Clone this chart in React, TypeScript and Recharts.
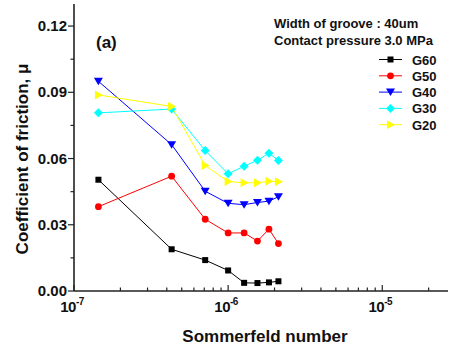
import { LineChart, Line, XAxis, YAxis } from "recharts";

// Sommerfeld number (x) shared by all series
const sommerfeld = [1.44e-7, 4.3e-7, 7.1e-7, 1.0e-6, 1.27e-6, 1.55e-6, 1.84e-6, 2.12e-6];

// coefficient of friction per groove
const g60 = [0.0504, 0.0189, 0.014, 0.0093, 0.0037, 0.0036, 0.0039, 0.0044];
const g50 = [0.0382, 0.052, 0.0325, 0.0263, 0.0263, 0.0226, 0.028, 0.0215];
const g40 = [0.095, 0.0663, 0.0452, 0.0397, 0.0391, 0.0401, 0.0407, 0.0427];
const g30 = [0.0807, 0.0824, 0.0636, 0.0531, 0.0565, 0.0592, 0.0624, 0.0591];
const g20 = [0.0888, 0.0836, 0.0568, 0.0496, 0.049, 0.049, 0.0497, 0.0495];

const xMajorTicks = [1e-7, 1e-6, 1e-5];
const xMinorTicks = [
  2e-7, 3e-7, 4e-7, 5e-7, 6e-7, 7e-7, 8e-7, 9e-7,
  2e-6, 3e-6, 4e-6, 5e-6, 6e-6, 7e-6, 8e-6, 9e-6,
  2e-5,
];
const yMajorTicks = [0, 0.03, 0.06, 0.09, 0.12];
const yMinorTicks = [0.015, 0.045, 0.075, 0.105];

const series = [
  { key: "G60", values: g60, color: "#000000", marker: "square" },
  { key: "G50", values: g50, color: "#ff0000", marker: "circle" },
  { key: "G40", values: g40, color: "#0000ff", marker: "triangleDown" },
  { key: "G30", values: g30, color: "#00ffff", marker: "diamond" },
  { key: "G20", values: g20, color: "#ffff00", marker: "triangleRight" },
];

const data = sommerfeld.map((s, i) => {
  const row: Record<string, number> = { s };
  series.forEach((ser) => {
    row[ser.key] = ser.values[i];
  });
  return row;
});

const FONT = "'Liberation Sans', Arial, sans-serif";
const AXIS = "#222";

const isMajor = (v: number, majors: number[]) =>
  majors.some((m) => Math.abs(v - m) / Math.max(m, 1e-12) < 1e-6 || v === m);

const Marker = ({ kind, cx, cy, color }: { kind: string; cx: number; cy: number; color: string }) => {
  switch (kind) {
    case "square":
      return <rect x={cx - 3} y={cy - 3} width={6} height={6} fill={color} />;
    case "circle":
      return <circle cx={cx} cy={cy} r={3.4} fill={color} />;
    case "triangleDown":
      return (
        <polygon
          points={`${cx - 4.5},${cy - 3.5} ${cx + 4.5},${cy - 3.5} ${cx},${cy + 4}`}
          fill={color}
        />
      );
    case "diamond":
      return (
        <polygon
          points={`${cx},${cy - 4.5} ${cx + 4.5},${cy} ${cx},${cy + 4.5} ${cx - 4.5},${cy}`}
          fill={color}
        />
      );
    default:
      return (
        <polygon
          points={`${cx - 3.5},${cy - 4.5} ${cx - 3.5},${cy + 4.5} ${cx + 4.5},${cy}`}
          fill={color}
        />
      );
  }
};

const BottomTick = (props: any) => {
  const { x, y, payload } = props;
  const major = isMajor(payload.value, xMajorTicks);
  const exp = Math.round(Math.log10(payload.value));
  return (
    <g>
      <line x1={x} y1={y} x2={x} y2={y - (major ? 6 : 3.5)} stroke={AXIS} strokeWidth={1.2} />
      {major && (
        <text
          x={x - 2}
          y={y + 21}
          textAnchor="middle"
          fontFamily={FONT}
          fontWeight="bold"
          fontSize={15}
          letterSpacing={-0.5}
          fill="#111"
        >
          10
          <tspan dy={-7} fontSize={10}>
            {exp}
          </tspan>
        </text>
      )}
    </g>
  );
};

const TopTick = (props: any) => {
  const { x, y, payload } = props;
  const major = isMajor(payload.value, xMajorTicks);
  return <line x1={x} y1={y} x2={x} y2={y + (major ? 6 : 3.5)} stroke={AXIS} strokeWidth={1.2} />;
};

const LeftTick = (props: any) => {
  const { x, y, payload } = props;
  const major = isMajor(payload.value, yMajorTicks);
  return (
    <g>
      <line x1={x} y1={y} x2={x - (major ? 6 : 3.5)} y2={y} stroke={AXIS} strokeWidth={1.2} />
      {major && (
        <text
          x={x - 7}
          y={y + 5}
          textAnchor="end"
          fontFamily={FONT}
          fontWeight="bold"
          fontSize={15}
          fill="#111"
        >
          {payload.value.toFixed(2)}
        </text>
      )}
    </g>
  );
};

export default function App() {
  return (
    <div style={{ position: "absolute", left: 0, top: 0, width: 449, height: 348, background: "#fff" }}>
      <LineChart
        width={449}
        height={348}
        data={data}
        margin={{ top: 4, right: 1, left: 0, bottom: 0 }}
      >
        <XAxis
          dataKey="s"
          type="number"
          scale="log"
          domain={[1e-7, 2.67e-5]}
          allowDataOverflow
          ticks={[...xMajorTicks, ...xMinorTicks]}
          tick={<BottomTick />}
          tickSize={0}
          tickMargin={0}
          tickLine={false}
          height={57}
          interval={0}
          axisLine={{ stroke: AXIS, strokeWidth: 1.6 }}
        />
        <XAxis
          xAxisId="top"
          orientation="top"
          dataKey="s"
          type="number"
          scale="log"
          domain={[1e-7, 2.67e-5]}
          allowDataOverflow
          ticks={[...xMajorTicks, ...xMinorTicks]}
          tick={<TopTick />}
          tickSize={0}
          tickMargin={0}
          tickLine={false}
          height={0}
          interval={0}
          axisLine={{ stroke: AXIS, strokeWidth: 1.6 }}
        />
        <YAxis
          type="number"
          domain={[0, 0.13]}
          allowDataOverflow
          ticks={[...yMajorTicks, ...yMinorTicks]}
          tick={<LeftTick />}
          tickSize={0}
          tickMargin={0}
          tickLine={false}
          width={74}
          interval={0}
          axisLine={{ stroke: AXIS, strokeWidth: 1.6 }}
        />
        {series.map((ser) => (
          <Line
            key={ser.key}
            dataKey={ser.key}
            stroke={ser.color}
            strokeWidth={1}
            isAnimationActive={false}
            dot={(p: any) => (
              <Marker key={`${ser.key}-${p.index}`} kind={ser.marker} cx={p.cx} cy={p.cy} color={ser.color} />
            )}
            activeDot={false}
          />
        ))}
      </LineChart>
      <svg
        width={449}
        height={348}
        style={{ position: "absolute", left: 0, top: 0, pointerEvents: "none" }}
        fontFamily={FONT}
        fontWeight="bold"
      >
        <text x={28} y={159} transform="rotate(-90 28 159)" textAnchor="middle" fontSize={17} fill="#111">
          Coefficient of friction, μ
        </text>
        <text x={265} y={342} textAnchor="middle" fontSize={17} fill="#111">
          Sommerfeld number
        </text>
        <text x={96} y={48} fontSize={17} fill="#111">
          (a)
        </text>
        <text x={274} y={28} fontSize={13} fill="#111">
          Width of groove : 40um
        </text>
        <text x={274} y={45} fontSize={13} fill="#111">
          Contact pressure 3.0 MPa
        </text>
        {series.map((ser, i) => {
          const cy = 59.5 + i * 16.3;
          return (
            <g key={ser.key}>
              <line x1={379} y1={cy} x2={402} y2={cy} stroke={ser.color} strokeWidth={1} />
              <Marker kind={ser.marker} cx={390.5} cy={cy} color={ser.color} />
              <text x={412} y={cy + 5} fontSize={13} fill="#111">
                {ser.key}
              </text>
            </g>
          );
        })}
      </svg>
    </div>
  );
}
